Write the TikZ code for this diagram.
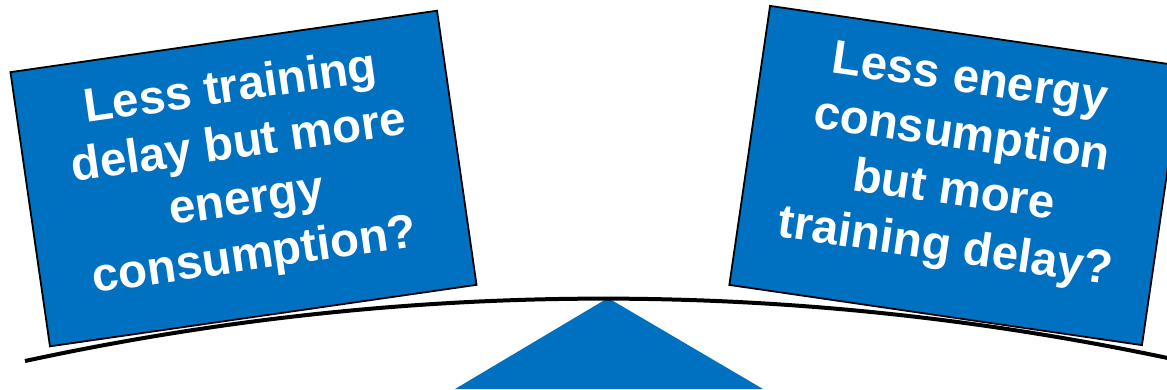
\documentclass[tikz,border=0pt]{standalone}
\usepackage{fontspec}
\setmainfont{Liberation Sans}
\definecolor{boxblue}{HTML}{0070C0}
\tikzset{
  card/.style={draw=black, line width=1.8pt, fill=boxblue, inner sep=0pt},
  cardtext/.style={text=white, font=\fontsize{47.5}{56.5}\selectfont\bfseries,
    align=center, inner sep=0pt},
  beam/.style={draw=black, line width=4pt},
  pivot/.style={fill=boxblue}
}
\begin{document}
\begin{tikzpicture}[x=1pt,y=1pt]
\useasboundingbox (0,0) rectangle (1167,-389);
\clip (0,0) rectangle (1167,-389);
% fulcrum
\coordinate (tl) at (455,-389);
\coordinate (tt) at (608,-298);
\coordinate (tr) at (763,-389);
\fill[pivot] (tl) -- (tt) -- (tr) -- cycle;
% beam
\coordinate (bl) at (25,-361);
\coordinate (br) at (1170,-358.5);
\draw[beam] (bl) .. controls (405.7,-278.9) and (787.3,-277.6) .. (br);
% cards
\node[card, rotate=8.2, minimum width=431pt, minimum height=277pt] (left) at (243.5,-178.5) {};
\node[cardtext, rotate=8.2, yshift=5pt] (ltext) at (left.center)
  {Less training\\delay but more\\energy\\consumption?};
\node[card, rotate=-8.3, minimum width=417pt, minimum height=282pt] (right) at (956,-175.5) {};
\node[cardtext, rotate=-8.3, yshift=10pt] (rtext) at (right.center)
  {Less energy\\consumption\\but more\\training delay?};
\end{tikzpicture}
\end{document}
